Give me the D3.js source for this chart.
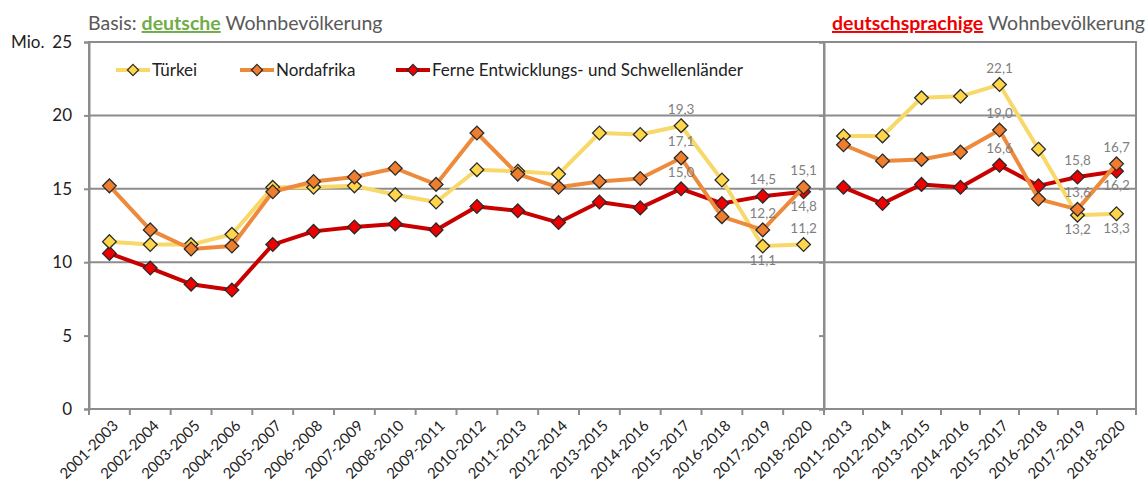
<!DOCTYPE html>
<html><head><meta charset="utf-8">
<script src="https://cdn.jsdelivr.net/npm/d3@7"></script>
<style>
html,body{margin:0;padding:0;background:#fff;}
svg{display:block;font-family:Lato,"Open Sans",sans-serif;}
</style></head>
<body>
<svg id="chart" width="1146" height="484"></svg>
<script>
// ---- data ----
const catsLeft = ["2001-2003","2002-2004","2003-2005","2004-2006","2005-2007","2006-2008","2007-2009","2008-2010","2009-2011","2010-2012","2011-2013","2012-2014","2013-2015","2014-2016","2015-2017","2016-2018","2017-2019","2018-2020"];
const catsRight = ["2011-2013","2012-2014","2013-2015","2014-2016","2015-2017","2016-2018","2017-2019","2018-2020"];
const seriesNames = ["Türkei","Nordafrika","Ferne Entwicklungs- und Schwellenländer"];
const tuerkeiLeft = [11.4,11.2,11.2,11.9,15.1,15.1,15.2,14.6,14.1,16.3,16.2,16.0,18.8,18.7,19.3,15.6,11.1,11.2];
const nordafrikaLeft = [15.2,12.2,10.9,11.1,14.8,15.5,15.8,16.4,15.3,18.8,16.0,15.1,15.5,15.7,17.1,13.1,12.2,15.1];
const ferneLeft = [10.6,9.6,8.5,8.1,11.2,12.1,12.4,12.6,12.2,13.8,13.5,12.7,14.1,13.7,15.0,14.0,14.5,14.8];
const tuerkeiRight = [18.6,18.6,21.2,21.3,22.1,17.7,13.2,13.3];
const nordafrikaRight = [18.0,16.9,17.0,17.5,19.0,14.3,13.6,16.7];
const ferneRight = [15.1,14.0,15.3,15.1,16.6,15.2,15.8,16.2];
const yTicks = [0,5,10,15,20,25];
const gridValues = [10,15,20];
// which points carry a value label (series index, category index, placement)
const labelsLeft = [[0,14,"a"],[1,14,"a"],[2,14,"a"],[2,16,"a"],[1,16,"a"],[0,16,"b"],[1,17,"a"],[2,17,"b"],[0,17,"a"]];
const labelsRight = [[0,4,"a"],[1,4,"a"],[2,4,"a"],[2,6,"a"],[1,6,"a"],[0,6,"b"],[1,7,"a"],[2,7,"b"],[0,7,"b"]];

// ---- layout ----
const svg = d3.select("#chart");
const x0 = 89, xSep = 824, x1 = 1136, yTop = 42, yBot = 409;
const y = d3.scaleLinear().domain([0,25]).range([yBot,yTop]);
const xL = d3.scaleBand().domain(catsLeft).range([x0,xSep]).padding(0);
const xR = d3.scaleBand().domain(catsRight).range([xSep,x1]).padding(0);
const colors = {line:["#f9d86a","#ee8a3c","#c80000"], fill:["#ffd54a","#ee7d2e","#ee0000"]};
const gridColor = "#8c8c8c";

// gridlines
gridValues.forEach(v=>{
  svg.append("line").attr("x1",x0).attr("x2",x1).attr("y1",y(v)).attr("y2",y(v))
    .attr("stroke",gridColor).attr("stroke-width",2);
});
// frames
svg.append("rect").attr("x",x0).attr("y",yTop).attr("width",xSep-x0).attr("height",yBot-yTop)
  .attr("fill","none").attr("stroke",gridColor).attr("stroke-width",2);
svg.append("rect").attr("x",xSep).attr("y",yTop).attr("width",x1-xSep).attr("height",yBot-yTop)
  .attr("fill","none").attr("stroke",gridColor).attr("stroke-width",2);

// y axis (left, labelled)
const yAxis = d3.axisLeft(y).tickValues(yTicks).tickSize(5).tickPadding(12);
const ga = svg.append("g").attr("transform",`translate(${x0},0)`).call(yAxis);
ga.select(".domain").attr("stroke",gridColor).attr("stroke-width",2);
ga.selectAll(".tick line").attr("stroke",gridColor).attr("stroke-width",2);
ga.selectAll(".tick text").attr("font-size",17).attr("fill","#222").attr("font-family","Lato,sans-serif");
// right panel y ticks (no labels)
const gb = svg.append("g").attr("transform",`translate(${xSep},0)`).call(d3.axisLeft(y).tickValues(yTicks).tickSize(5).tickFormat(""));
gb.select(".domain").attr("stroke",gridColor).attr("stroke-width",2);
gb.selectAll(".tick line").attr("stroke",gridColor).attr("stroke-width",2);

svg.append("text").attr("x",11).attr("y",y(25)).attr("dy","0.35em").attr("font-size",17).attr("fill","#222").text("Mio.");

// x axes
function xAxis(scale){
  const g = svg.append("g").attr("transform",`translate(0,${yBot})`);
  const bounds = scale.domain().map(c=>scale(c)).concat([scale.range()[1]]);
  g.selectAll("line.xt").data(bounds).join("line").attr("class","xt")
    .attr("x1",d=>d).attr("x2",d=>d).attr("y1",0).attr("y2",6)
    .attr("stroke",gridColor).attr("stroke-width",2);
  g.selectAll("text").data(scale.domain()).join("text")
    .attr("transform",d=>`translate(${scale(d)+scale.bandwidth()/2+6},${14}) rotate(-45)`)
    .attr("text-anchor","end").attr("dy","0.35em")
    .attr("font-size",15).attr("fill","#222").text(d=>d);
}
xAxis(xL); xAxis(xR);

// series
const leftData = [tuerkeiLeft,nordafrikaLeft,ferneLeft];
const rightData = [tuerkeiRight,nordafrikaRight,ferneRight];
const diamond = d3.symbol().type(d3.symbolDiamond2).size(120);
const drawOrder = [2,0,1];
function drawPanel(scale, cats, data){
  drawOrder.forEach(s=>{
    const pts = cats.map((c,i)=>[scale(c)+scale.bandwidth()/2, y(data[s][i])]);
    svg.append("path").attr("d",d3.line()(pts)).attr("fill","none")
      .attr("stroke",colors.line[s]).attr("stroke-width",4).attr("stroke-linejoin","round");
    svg.append("g").selectAll("path").data(pts).join("path")
      .attr("d",diamond).attr("transform",d=>`translate(${d[0]},${d[1]})`)
      .attr("fill",colors.fill[s]).attr("stroke","#2a2a2a").attr("stroke-width",1.3);
  });
}
drawPanel(xL,catsLeft,leftData);
drawPanel(xR,catsRight,rightData);

// value labels
const fmt = v=>v.toFixed(1).replace(".",",");
function drawLabels(scale,cats,data,labels){
  labels.forEach(([s,i,p])=>{
    const cx = scale(cats[i])+scale.bandwidth()/2, cy = y(data[s][i]);
    svg.append("text").attr("x",cx).attr("y",p==="a"?cy-12:cy+19)
      .attr("text-anchor","middle").attr("font-size",13.5).attr("fill","#7f7f7f").text(fmt(data[s][i]));
  });
}
drawLabels(xL,catsLeft,leftData,labelsLeft);
drawLabels(xR,catsRight,rightData,labelsRight);

// legend
const legX = [116,240,396];
seriesNames.forEach((n,s)=>{
  const g = svg.append("g").attr("transform",`translate(${legX[s]},70)`);
  g.append("line").attr("x1",0).attr("x2",34).attr("stroke",colors.line[s]).attr("stroke-width",4);
  g.append("path").attr("d",d3.symbol().type(d3.symbolDiamond2).size(80)).attr("transform","translate(17,0)")
    .attr("fill",colors.fill[s]).attr("stroke","#2a2a2a").attr("stroke-width",1.2);
  g.append("text").attr("x",36).attr("dy","0.35em").attr("font-size",17).attr("fill","#222").text(n);
});

// titles
const t1 = svg.append("text").attr("x",88).attr("y",30).attr("font-size",19.5).attr("fill","#595959");
t1.append("tspan").text("Basis: ");
t1.append("tspan").attr("fill","#70ad47").attr("font-weight","bold").attr("text-decoration","underline").text("deutsche");
t1.append("tspan").text(" Wohnbevölkerung");
const t2 = svg.append("text").attr("x",1145).attr("y",30).attr("font-size",19.5).attr("fill","#595959").attr("text-anchor","end");
t2.append("tspan").attr("fill","#ee0000").attr("font-weight","bold").attr("text-decoration","underline").text("deutschsprachige");
t2.append("tspan").text(" Wohnbevölkerung");
</script>
</body></html>
